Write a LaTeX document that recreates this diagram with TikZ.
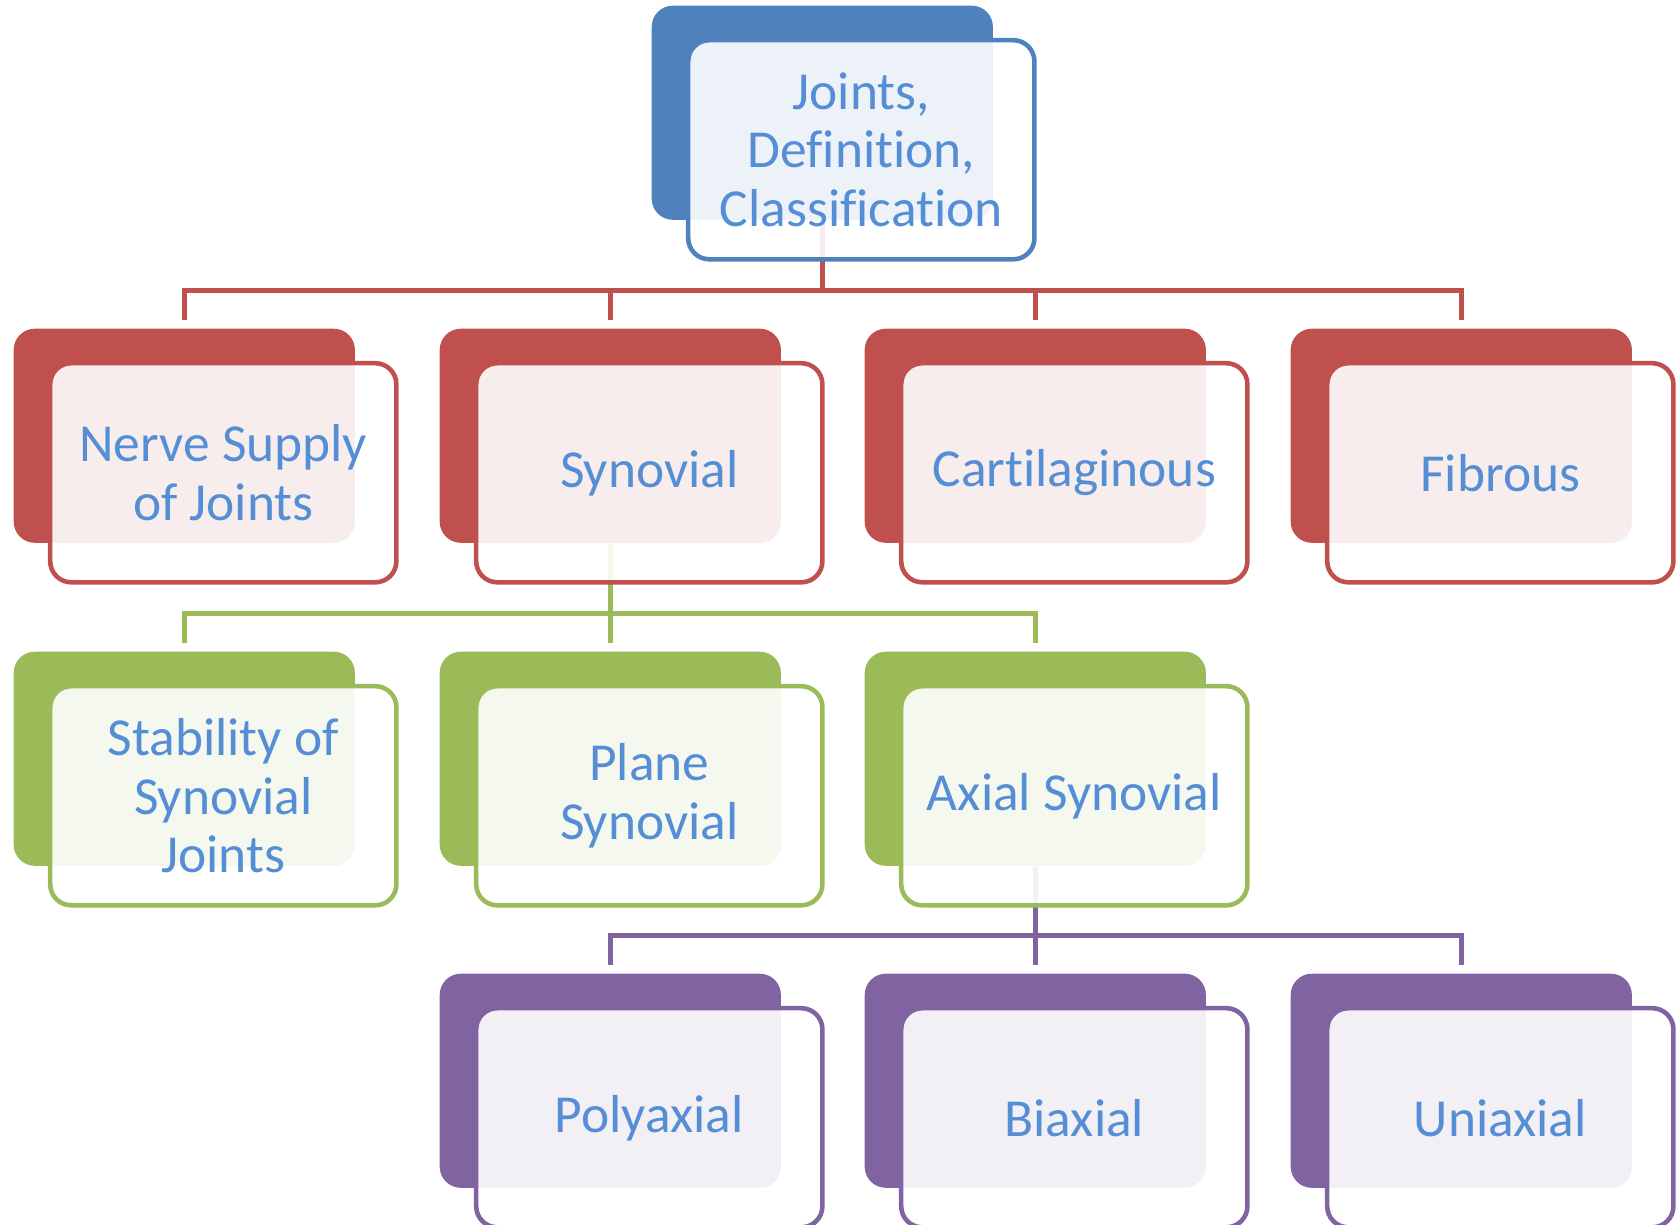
\documentclass[tikz,border=0pt]{standalone}
\usepackage{fontspec}
\setmainfont{Carlito}[Ligatures=NoCommon]
\usetikzlibrary{backgrounds}
\definecolor{jblue}{HTML}{4F81BD}
\definecolor{jred}{HTML}{C0504D}
\definecolor{jgreen}{HTML}{9BBB59}
\definecolor{jpurple}{HTML}{8064A2}
\definecolor{jtext}{HTML}{558ED5}
\tikzset{
  back/.style={rectangle,rounded corners=6pt,minimum width=3.41cm,minimum height=2.14cm,
    inner sep=0pt,fill=#1,anchor=north west},
  front/.style={rectangle,rounded corners=6pt,minimum width=3.46cm,minimum height=2.19cm,
    inner sep=0pt,draw=#1,line width=1.3pt,fill=white,fill opacity=0.9,text opacity=1,
    text=jtext,align=center,font=\fontsize{15.2}{16.6}\selectfont},
  link/.style={draw=#1,line width=1.4pt}
}
\begin{document}
\begin{tikzpicture}[x=0.01cm,y=0.01cm]
\def\jointbox#1#2#3#4#5{
  \node[back=#2] (#1) at (#3,#4) {};
  \node[front=#2] (#1f) at ([shift={(39,-37)}]#1.center) {#5};
}
    \useasboundingbox (0,0) rectangle (1678,-1225);
    % top
    \jointbox{top}{jblue}{651}{-5}{Joints,\\Definition,\\Classification}
    % first row
    \jointbox{nerve}{jred}{13}{-328}{Nerve Supply\\of Joints}
    \jointbox{syn}{jred}{439}{-328}{Synovial}
    \jointbox{cart}{jred}{864}{-328}{Cartilaginous}
    \jointbox{fib}{jred}{1290}{-328}{Fibrous}
    % second row
    \jointbox{stab}{jgreen}{13}{-651}{Stability of\\Synovial\\Joints}
    \jointbox{plane}{jgreen}{439}{-651}{Plane\\Synovial}
    \jointbox{axial}{jgreen}{864}{-651}{Axial Synovial}
    % third row
    \jointbox{poly}{jpurple}{439}{-973}{Polyaxial}
    \jointbox{bi}{jpurple}{864}{-973}{Biaxial}
    \jointbox{uni}{jpurple}{1290}{-973}{Uniaxial}
    \begin{scope}[on background layer]
        \fill[white] (0,0) rectangle (1678,-1225);
        \foreach \c in {nerve,syn,cart,fib}
            \draw[link=jred] (top.south) |- ([yshift=0.375cm]\c.north) -- ([yshift=0.075cm]\c.north);
        \foreach \c in {stab,plane,axial}
            \draw[link=jgreen] (syn.south) |- ([yshift=0.375cm]\c.north) -- ([yshift=0.075cm]\c.north);
        \foreach \c in {poly,bi,uni}
            \draw[link=jpurple] (axial.south) |- ([yshift=0.375cm]\c.north) -- ([yshift=0.075cm]\c.north);
    \end{scope}
\end{tikzpicture}
\end{document}
